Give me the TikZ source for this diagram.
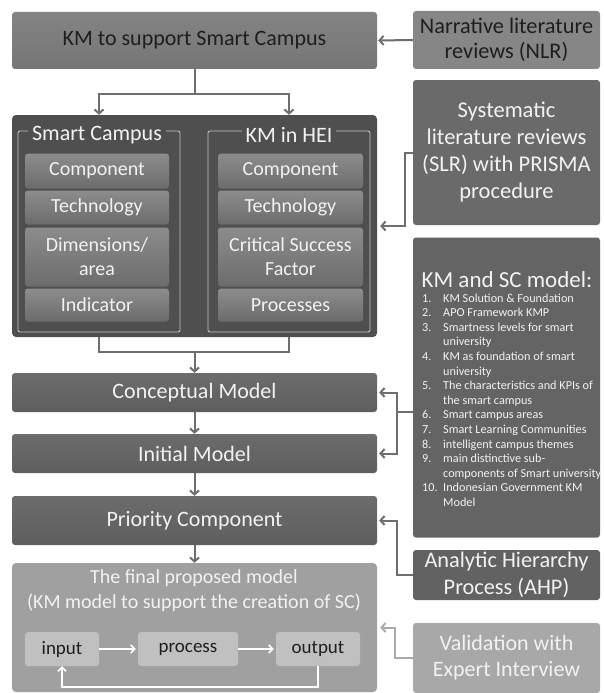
\documentclass[tikz,border=0pt]{standalone}
\usepackage{fontspec}
\setmainfont{Carlito}
\usetikzlibrary{arrows.meta,calc}
\definecolor{mtop}{HTML}{6C6C6C}
\definecolor{mbot}{HTML}{5E5E5E}
\definecolor{ttop}{HTML}{838383}
\definecolor{tbot}{HTML}{767676}
\definecolor{grpc}{HTML}{4F4F4F}
\definecolor{itop}{HTML}{8C8C8C}
\definecolor{ibot}{HTML}{6C6C6C}
\definecolor{framec}{HTML}{C4C4C4}
\definecolor{nlrc}{HTML}{868686}
\definecolor{slrc}{HTML}{6A6A6A}
\definecolor{kmc}{HTML}{646464}
\definecolor{ahpc}{HTML}{626262}
\definecolor{valc}{HTML}{A8A8A8}
\definecolor{finc}{HTML}{A0A0A0}
\definecolor{inc}{HTML}{C0C0C0}
\definecolor{txtl}{HTML}{F2F2F2}
\definecolor{txtd}{HTML}{1E1E1E}
\definecolor{linec}{HTML}{6E6E6E}
\definecolor{linel}{HTML}{ABABAB}
\begin{document}
\begin{tikzpicture}[x=1pt,y=-1pt,
  mainbox/.style={rounded corners=3pt, top color=mtop, bottom color=mbot, text=txtl,
    font=\fontsize{22}{26}\selectfont, align=center, inner sep=0pt},
  sidebox/.style={rounded corners=3pt, text=txtl, font=\fontsize{22.3}{27}\selectfont,
    align=center, inner sep=0pt, minimum width=187pt},
  itembox/.style={rounded corners=3pt, top color=itop, bottom color=ibot, text=txtl,
    font=\fontsize{20}{24}\selectfont, align=center, inner sep=0pt},
  framebox/.style={draw=framec, line width=0.9pt, rounded corners=2pt, minimum width=162pt, minimum height=201pt, inner sep=0pt},
  ftitle/.style={fill=grpc, text=txtl, font=\fontsize{22}{26}\selectfont, inner xsep=4pt, inner ysep=0pt},
  flowbox/.style={rounded corners=3pt, fill=inc, text=txtd, font=\fontsize{19}{23}\selectfont, inner sep=0pt, minimum height=34pt},
  conn/.style={draw=linec, line width=2pt},
  arr/.style={conn, -{Straight Barb[length=4pt,width=9pt]}},
  warr/.style={draw=white, line width=1.6pt, -{Straight Barb[length=4pt,width=8pt]}},
]
\useasboundingbox (0,0) rectangle (603,693);
\fill[white] (0,0) rectangle (603,693);

% left column
\node[mainbox, top color=ttop, bottom color=tbot, text=txtd, minimum width=365pt, minimum height=57pt] (top) at (194.5,40.5) {KM to support Smart Campus};
\node[rounded corners=4pt, fill=grpc, minimum width=365pt, minimum height=222pt, inner sep=0pt] (grp) at (194.5,226) {};
\node[framebox] (lf) at (99,231.5) {};
\node[framebox] (rf) at (289,231.5) {};
\node[ftitle] (lft) at (97,135) {Smart Campus};
\node[ftitle] (rft) at (289,135) {KM in HEI};

\node[itembox, minimum width=144pt, minimum height=35pt] (l1) at (97,171) {Component};
\node[itembox, minimum width=144pt, minimum height=34pt] (l2) at (97,207.5) {Technology};
\node[itembox, minimum width=144pt, minimum height=59pt] (l3) at (97,257) {Dimensions/\\area};
\node[itembox, minimum width=144pt, minimum height=33pt] (l4) at (97,305) {Indicator};
\node[itembox, minimum width=145pt, minimum height=35pt] (r1) at (290.5,171) {Component};
\node[itembox, minimum width=145pt, minimum height=34pt] (r2) at (290.5,207.5) {Technology};
\node[itembox, minimum width=145pt, minimum height=59pt] (r3) at (290.5,257) {Critical Success\\Factor};
\node[itembox, minimum width=145pt, minimum height=33pt] (r4) at (290.5,305) {Processes};

\node[mainbox, minimum width=365pt, minimum height=39pt] (concept) at (194.5,392.5) {Conceptual Model};
\node[mainbox, minimum width=365pt, minimum height=39pt] (initial) at (194.5,453.5) {Initial Model};
\node[mainbox, minimum width=365pt, minimum height=49pt] (priority) at (194.5,520.5) {Priority Component};
\node[rounded corners=4pt, fill=finc, minimum width=365pt, minimum height=129pt, inner sep=0pt] (final) at (194.5,627.5) {};
\node[text=txtl, font=\fontsize{20}{25}\selectfont, align=center, inner sep=0pt] (ftxt) at (194,590.5) {The final proposed model\\(KM model to support the creation of SC)};
\node[flowbox, minimum width=74pt] (input) at (62,649) {input};
\node[flowbox, minimum width=100pt] (process) at (188,649) {process};
\node[flowbox, minimum width=84pt] (output) at (318,649) {output};

% right column
\node[sidebox, fill=nlrc, text=txtd, minimum height=58pt, font=\fontsize{22.3}{25}\selectfont] (nlr) at (506.5,40) {Narrative literature\\reviews (NLR)};
\node[sidebox, fill=slrc, minimum height=145pt, font=\fontsize{22.5}{27}\selectfont] (slr) at (506.5,152.5) {Systematic\\literature reviews\\(SLR) with PRISMA\\procedure};
\node[sidebox, fill=kmc, minimum height=300pt] (kmsc) at (506.5,387.5) {};
\node[text=txtl, font=\fontsize{23}{26}\selectfont, inner sep=0pt, anchor=base] (kmt) at (507,287) {KM and SC model:};
\node[text=txtl, anchor=north west, inner sep=0pt, align=left, font=\fontsize{12.2}{14.6}\selectfont] (kml) at (422,293.5) {%
\makebox[21pt][l]{1.}KM Solution \& Foundation\\
\makebox[21pt][l]{2.}APO Framework KMP\\
\makebox[21pt][l]{3.}Smartness levels for smart\\
\hspace*{21pt}university\\
\makebox[21pt][l]{4.}KM as foundation of smart\\
\hspace*{21pt}university\\
\makebox[21pt][l]{5.}The characteristics and KPIs of\\
\hspace*{21pt}the smart campus\\
\makebox[21pt][l]{6.}Smart campus areas\\
\makebox[21pt][l]{7.}Smart Learning Communities\\
\makebox[21pt][l]{8.}intelligent campus themes\\
\makebox[21pt][l]{9.}main distinctive sub-\\
\hspace*{21pt}components of Smart university\\
\makebox[21pt][l]{10.}Indonesian Government KM\\
\hspace*{21pt}Model};
\node[sidebox, fill=ahpc, minimum height=50pt] (ahp) at (506.5,575) {Analytic Hierarchy\\Process (AHP)};
\node[sidebox, fill=valc, minimum height=70pt, font=\fontsize{22}{26}\selectfont] (val) at (506.5,658) {Validation with\\Expert Interview};

% connectors
\draw[arr, shorten >=1pt] (nlr.west) -- (top.east);
\draw[arr] (top.south) -- ++(0,25) -| (grp.north -| lf.north);
\draw[arr] (top.south) -- ++(0,25) -| (grp.north -| rf.north);
\draw[arr, shorten >=3pt] (slr.west) -- ++(-8,0) |- (grp.east);
\draw[conn] (grp.south -| lf.south) -- ++(0,15) -| (grp.south -| rf.south);
\coordinate (mj) at ($(grp.south)+(0,15)$);
\draw[arr] (mj) -- (concept.north);
\draw[arr] (concept.south) -- (initial.north);
\draw[arr] (initial.south) -- (priority.north);
\draw[arr] (priority.south) -- (final.north);
\coordinate (kj) at (397,412);
\draw[conn] (kmsc.west |- kj) -- (kj);
\draw[arr, shorten >=2pt] (kj) |- (concept.east);
\draw[arr, shorten >=2pt] (kj) |- (initial.east);
\draw[arr, shorten >=2pt] (ahp.west) -- ++(-16,0) |- (priority.east);
\draw[arr, draw=linel, shorten >=3pt] (val.west) -- ++(-18,0) |- (final.east);
\draw[warr] (input.east) -- ([xshift=-2pt]process.west);
\draw[warr] (process.east) -- ([xshift=-2pt]output.west);
\draw[warr] (output.south) -- ++(0,21) -| (input.south);
\end{tikzpicture}
\end{document}
